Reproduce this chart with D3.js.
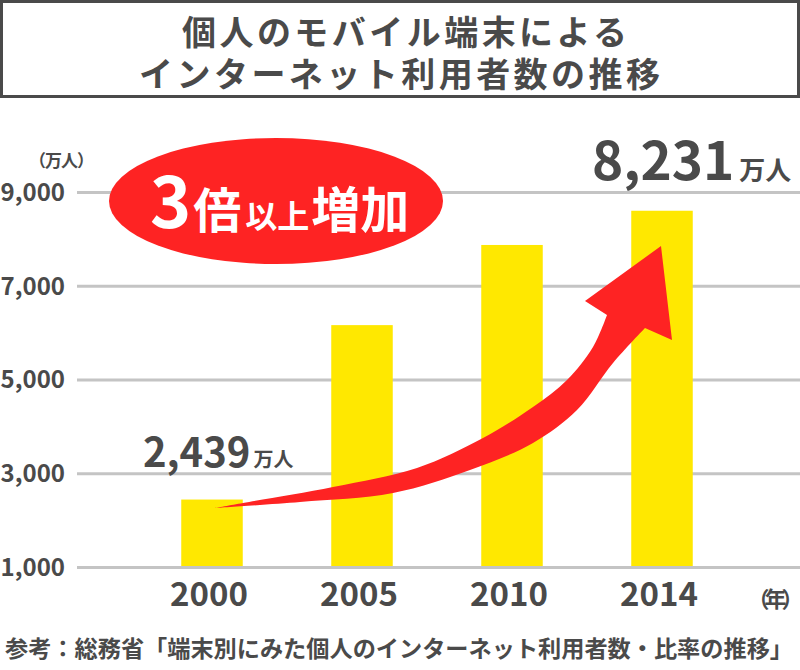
<!DOCTYPE html>
<html><head><meta charset="utf-8">
<script src="https://cdn.jsdelivr.net/npm/d3@7/dist/d3.min.js"></script>
<style>
html,body{margin:0;padding:0;background:#fff;}
text{font-family:"Noto Sans CJK JP","Noto Sans",sans-serif;font-weight:bold;}
</style></head>
<body>
<svg id="c" width="800" height="670"></svg>
<script>
const years = ["2000","2005","2010","2014"];
const users = [2439, 6160, 7870, 8600];
const yTicks = [1000, 3000, 5000, 7000, 9000];
const titleLines = ["個人のモバイル端末による","インターネット利用者数の推移"];
const startLabel = "2,439";
const endLabel = "8,231";
const unitLabel = "万人";
const source = "参考：総務省「端末別にみた個人のインターネット利用者数・比率の推移」";

const svg = d3.select("#c");
const txt = "#4a4a4a";
const red = "#fe2323";
const yellow = "#ffe800";

// title box
svg.append("rect").attr("x",1.5).attr("y",1.5).attr("width",797).attr("height",95)
  .attr("fill","#fff").attr("stroke","#4a4a4a").attr("stroke-width",3);
const tl = [[182,445],[139,521]];
titleLines.forEach((t,i)=>{
  svg.append("text").attr("x",tl[i][0]).attr("y",45+i*42)
    .attr("font-size",34).attr("fill",txt)
    .attr("textLength",tl[i][1]).attr("lengthAdjust","spacing").text(t);
});

const y = d3.scaleLinear().domain([1000,9000]).range([567,192]);
const x = d3.scaleBand().domain(years).range([137,737]).paddingInner(0.59).paddingOuter(0.295);

// grid + y axis
const yAxis = d3.axisLeft(y).tickValues(yTicks).tickFormat(d3.format(",")).tickSize(-723).tickPadding(12);
const ga = svg.append("g").attr("transform","translate(77,0)").call(yAxis);
ga.select(".domain").remove();
ga.selectAll(".tick line").attr("stroke","#c4c4c4").attr("stroke-width",3);
ga.selectAll(".tick text").attr("font-size",24).attr("fill",txt)
  .attr("font-family","\"Noto Sans CJK JP\",sans-serif").attr("font-weight","bold").attr("dy","0.35em");

svg.append("text").attr("x",61).attr("y",167).attr("text-anchor","middle").attr("font-size",17)
  .attr("letter-spacing","-1px").attr("fill",txt).text("（万人）");

// bars
svg.append("g").selectAll("rect").data(years).join("rect")
  .attr("x",d=>x(d)).attr("width",x.bandwidth())
  .attr("y",(d,i)=>y(users[i])).attr("height",(d,i)=>y(1000)-y(users[i])-1)
  .attr("fill",yellow);

// x labels
svg.append("g").selectAll("text").data(years).join("text")
  .attr("x",d=>x(d)+x.bandwidth()/2-3).attr("y",606).attr("text-anchor","middle")
  .attr("font-size",33).attr("fill",txt).text(d=>d);
svg.append("text").attr("x",773).attr("y",607).attr("text-anchor","middle").attr("font-size",22)
  .attr("letter-spacing","-5px").attr("fill",txt).text("（年）");

// arrow (decoration)
const lower = [[215,508],[300,502],[393,493],[470,470],[533,443],[577,410],[613,363],[645,328]];
const head = [[672,340],[661,246],[585,301],[607,315]];
const upper = [[607,315],[593,347],[567,380],[533,407],[483,438],[417,468],[333,487],[243,503],[215,508]];
const ln = d3.line().curve(d3.curveCatmullRom.alpha(0.5));
const pathD = ln(lower) + head.map(p=>"L"+p[0]+","+p[1]).join("") + ln(upper).replace(/^M/,"L") + "Z";
svg.append("path").attr("d",pathD).attr("fill",red);

// ellipse badge
svg.append("ellipse").attr("cx",276).attr("cy",201).attr("rx",167).attr("ry",63).attr("fill",red);
const badge = svg.append("text").attr("x",150).attr("y",228).attr("fill","#fff");
badge.append("tspan").attr("font-size",70).text("3");
badge.append("tspan").attr("font-size",48).attr("dx",2).text("倍");
badge.append("tspan").attr("font-size",32).attr("dx",4).text("以上");
badge.append("tspan").attr("font-size",49).attr("dx",2).text("増加");

// value labels
const s = svg.append("text").attr("x",143).attr("y",467).attr("fill",txt);
s.append("tspan").attr("font-size",40).text(startLabel);
s.append("tspan").attr("font-size",20).attr("dx",3).text(unitLabel);
const e = svg.append("text").attr("x",592).attr("y",180).attr("fill",txt);
e.append("tspan").attr("font-size",53).text(endLabel);
e.append("tspan").attr("font-size",26).attr("dx",5).text(unitLabel);

// source
svg.append("text").attr("x",5).attr("y",657).attr("font-size",23).attr("fill",txt)
  .attr("textLength",788).attr("lengthAdjust","spacingAndGlyphs").text(source);
</script>
</body></html>
